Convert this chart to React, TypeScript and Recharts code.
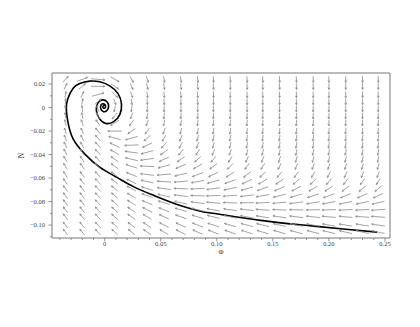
import React from "react";
import { ComposedChart, XAxis, YAxis, Scatter, Line, ReferenceArea } from "recharts";

// grid of the direction field (Φ columns, N rows)
const phiValues = [-0.035, -0.02, -0.006, 0.009, 0.024, 0.038, 0.053, 0.068, 0.083, 0.097, 0.112, 0.127, 0.141, 0.156, 0.171, 0.186, 0.2, 0.215, 0.23, 0.244];
const nValues = [0.024, 0.018, 0.011, 0.005, -0.001, -0.007, -0.013, -0.02, -0.026, -0.032, -0.038, -0.044, -0.05, -0.057, -0.063, -0.069, -0.075, -0.081, -0.087, -0.093, -0.1, -0.106];

// arrow direction in degrees (0 = right, 90 = up), one row per N value
const fieldAngles = [
  [45, 20, -5, -30, -60, -75, -80, -82, -84, -85, -86, -86, -87, -87, -87, -88, -88, -88, -88, -88],
  [65, 40, 0, -35, -65, -78, -82, -84, -85, -86, -87, -87, -88, -88, -88, -88, -89, -89, -89, -89],
  [78, 65, 15, -45, -72, -82, -85, -86, -87, -88, -88, -88, -88, -89, -89, -89, -89, -89, -89, -89],
  [88, 80, 40, -70, -82, -86, -88, -89, -89, -89, -89, -90, -90, -90, -90, -90, -90, -90, -90, -90],
  [95, 95, 110, -100, -95, -93, -92, -91, -91, -91, -91, -91, -91, -91, -91, -91, -91, -91, -91, -91],
  [100, 102, 120, -130, -108, -100, -96, -95, -94, -93, -93, -93, -93, -93, -92, -92, -92, -92, -92, -92],
  [103, 107, 125, -150, -125, -110, -102, -98, -97, -96, -95, -95, -94, -94, -94, -94, -93, -93, -93, -93],
  [108, 112, 130, 180, -145, -125, -110, -103, -100, -98, -97, -96, -96, -95, -95, -95, -95, -95, -94, -94],
  [112, 117, 132, 165, -165, -140, -120, -110, -104, -101, -99, -98, -97, -97, -97, -96, -96, -96, -96, -96],
  [115, 120, 133, 155, -178, -155, -133, -118, -110, -106, -103, -101, -100, -99, -98, -98, -98, -98, -97, -97],
  [118, 122, 133, 150, 172, -165, -145, -130, -120, -113, -108, -105, -103, -102, -101, -100, -100, -100, -99, -99],
  [120, 124, 133, 145, 167, -172, -155, -145, -137, -130, -120, -114, -110, -107, -105, -104, -103, -102, -102, -102],
  [122, 125, 133, 143, 162, 178, -165, -157, -150, -143, -135, -128, -122, -117, -113, -110, -108, -107, -106, -105],
  [123, 126, 133, 142, 158, 173, -175, -167, -160, -155, -148, -142, -136, -130, -125, -120, -117, -115, -113, -112],
  [124, 127, 133, 141, 155, 168, 177, -175, -170, -165, -160, -155, -150, -145, -140, -135, -130, -127, -125, -123],
  [125, 128, 133, 140, 152, 163, 172, 178, -177, -173, -169, -165, -161, -157, -153, -150, -147, -144, -142, -140],
  [125, 128, 133, 139, 150, 160, 167, 173, 178, -178, -176, -173, -170, -167, -164, -162, -160, -158, -156, -155],
  [126, 129, 133, 139, 148, 157, 163, 168, 172, 175, 178, -179, -177, -175, -173, -171, -170, -169, -168, -167],
  [126, 129, 133, 138, 146, 153, 159, 164, 167, 170, 172, 174, 176, 178, 179, -179, -178, -177, -177, -176],
  [126, 129, 133, 138, 145, 150, 155, 160, 163, 166, 168, 170, 171, 172, 173, 174, 175, 175, 176, 176],
  [126, 129, 133, 137, 143, 147, 152, 156, 159, 162, 164, 166, 167, 168, 169, 170, 170, 171, 171, 172],
  [126, 129, 132, 136, 141, 145, 149, 153, 156, 158, 160, 162, 163, 164, 165, 166, 166, 167, 167, 168],
];

// solution curve, from the lower right into the focus
const trajPhi = [0.243, 0.215, 0.177, 0.139, 0.101, 0.0854, 0.0646, 0.044, 0.026, 0.0104, -0.0045, -0.0179, -0.0283, -0.0328, -0.0342, -0.0328, -0.0283, -0.0223, -0.0134, -0.0045, 0.0045, 0.0119, 0.015, 0.0135, 0.008, 0.001, -0.005, -0.0075, -0.006, -0.002, 0.002, 0.0035, 0.002, -0.001, -0.0035, -0.003, -0.0005, 0.0008, 0, -0.0015, -0.0012, -0.0005];
const trajN = [-0.106, -0.1035, -0.1, -0.096, -0.0906, -0.0882, -0.0825, -0.0749, -0.0675, -0.0592, -0.0507, -0.0394, -0.0264, -0.0122, -0.0009, 0.0077, 0.0162, 0.0204, 0.0225, 0.0219, 0.0185, 0.0119, 0.003, -0.006, -0.012, -0.0135, -0.009, -0.002, 0.004, 0.0065, 0.005, 0.001, -0.0025, -0.0035, -0.001, 0.0025, 0.003, 0.0012, -0.0005, 0, 0.0015, 0.0012];

const xTicks = [-0.04, -0.03, -0.02, -0.01, 0, 0.01, 0.02, 0.03, 0.04, 0.05, 0.06, 0.07, 0.08, 0.09, 0.1, 0.11, 0.12, 0.13, 0.14, 0.15, 0.16, 0.17, 0.18, 0.19, 0.2, 0.21, 0.22, 0.23, 0.24, 0.25];
const xLabels: Record<string, string> = { "0": "0", "0.05": "0.05", "0.1": "0.10", "0.15": "0.15", "0.2": "0.20", "0.25": "0.25" };
const yTicks = [0.02, 0.01, 0, -0.01, -0.02, -0.03, -0.04, -0.05, -0.06, -0.07, -0.08, -0.09, -0.1, -0.11];
const yLabels: Record<string, string> = { "0.02": "0.02", "0": "0", "-0.02": "−0.02", "-0.04": "−0.04", "-0.06": "−0.06", "-0.08": "−0.08", "-0.1": "−0.10" };

const X_DOMAIN = [-0.047, 0.2545];
const Y_DOMAIN = [-0.111, 0.0294];

const CELL_W = 16.4;
const CELL_H = 7.3;
const FONT = "'Liberation Serif', 'DejaVu Serif', serif";

const arrowData = nValues.flatMap((n, j) =>
  phiValues.map((p, i) => ({ x: p, y: n, a: fieldAngles[j][i] }))
);
const trajectory = trajPhi.map((p, i) => ({ x: p, y: trajN[i] }));

const renderArrow = (props: any) => {
  const { cx, cy, payload } = props;
  const r = (payload.a * Math.PI) / 180;
  const c = Math.cos(r);
  const s = Math.sin(r);
  const k = 0.85 / Math.sqrt((c / CELL_W) ** 2 + (s / CELL_H) ** 2);
  const dx = c * k;
  const dy = -s * k;
  const x1 = cx - dx / 2, y1 = cy - dy / 2;
  const x2 = cx + dx / 2, y2 = cy + dy / 2;
  const ang = Math.atan2(dy, dx);
  const h = 2.1;
  const b1x = x2 - h * Math.cos(ang - 0.45), b1y = y2 - h * Math.sin(ang - 0.45);
  const b2x = x2 - h * Math.cos(ang + 0.45), b2y = y2 - h * Math.sin(ang + 0.45);
  return (
    <g stroke="#8c8c8c" strokeWidth={0.8} fill="none">
      <line x1={x1} y1={y1} x2={x2} y2={y2} />
      <path d={`M${b1x},${b1y}L${x2},${y2}L${b2x},${b2y}`} />
    </g>
  );
};

const XTick = (props: any) => {
  const { x, y, payload } = props;
  const key = String(payload.value);
  const major = key in xLabels;
  return (
    <g>
      <line x1={x} y1={y} x2={x} y2={y + (major ? 3.5 : 2)} stroke="#777" strokeWidth={0.8} />
      {major && (
        <text x={x} y={y + 7.5} textAnchor="middle" fontSize={6.5} fontFamily={FONT} fill="#444">
          {xLabels[key]}
        </text>
      )}
    </g>
  );
};

const YTick = (props: any) => {
  const { x, y, payload } = props;
  const key = String(payload.value);
  const major = key in yLabels;
  return (
    <g>
      <line x1={x - (major ? 3.5 : 2)} y1={y} x2={x} y2={y} stroke="#777" strokeWidth={0.8} />
      {major && (
        <text x={x - 7} y={y + 2.2} textAnchor="end" fontSize={6.5} fontFamily={FONT} fill="#444">
          {yLabels[key]}
        </text>
      )}
    </g>
  );
};

export default function App() {
  return (
    <div style={{ position: "absolute", left: 0, top: 0, width: 420, height: 327, background: "#fff" }}>
      <ComposedChart width={420} height={327} margin={{ top: 73, right: 30, bottom: 69, left: 12 }}>
        <XAxis
          type="number"
          dataKey="x"
          domain={X_DOMAIN}
          ticks={xTicks}
          interval={0}
          allowDataOverflow
          tick={<XTick />}
          tickSize={0}
          tickMargin={0}
          tickLine={false}
          axisLine={false}
          height={20}
          label={{
            content: (p: any) => (
              <text x={p.viewBox.x + p.viewBox.width / 2} y={p.viewBox.y + 15.5} textAnchor="middle" fontSize={7} fontFamily={FONT} fill="#333">
                Φ
              </text>
            ),
          }}
        />
        <YAxis
          type="number"
          dataKey="y"
          domain={Y_DOMAIN}
          ticks={yTicks}
          interval={0}
          allowDataOverflow
          tick={<YTick />}
          tickSize={0}
          tickMargin={0}
          tickLine={false}
          axisLine={false}
          width={40}
          label={{
            content: (p: any) => {
              const lx = p.viewBox.x + 9;
              const ly = p.viewBox.y + p.viewBox.height / 2;
              return (
                <text x={lx} y={ly} textAnchor="middle" fontSize={7.5} fontFamily={FONT} fill="#333" transform={`rotate(-90 ${lx} ${ly})`} dy="0.35em">
                  N
                </text>
              );
            },
          }}
        />
        <ReferenceArea x1={X_DOMAIN[0]} x2={X_DOMAIN[1]} y1={Y_DOMAIN[0]} y2={Y_DOMAIN[1]} fill="none" stroke="#777" strokeWidth={1} ifOverflow="visible" />
        <Scatter data={arrowData} shape={renderArrow} isAnimationActive={false} />
        <Line data={trajectory} dataKey="y" type="natural" stroke="#000" strokeWidth={1.6} dot={false} activeDot={false} isAnimationActive={false} />
      </ComposedChart>
    </div>
  );
}
